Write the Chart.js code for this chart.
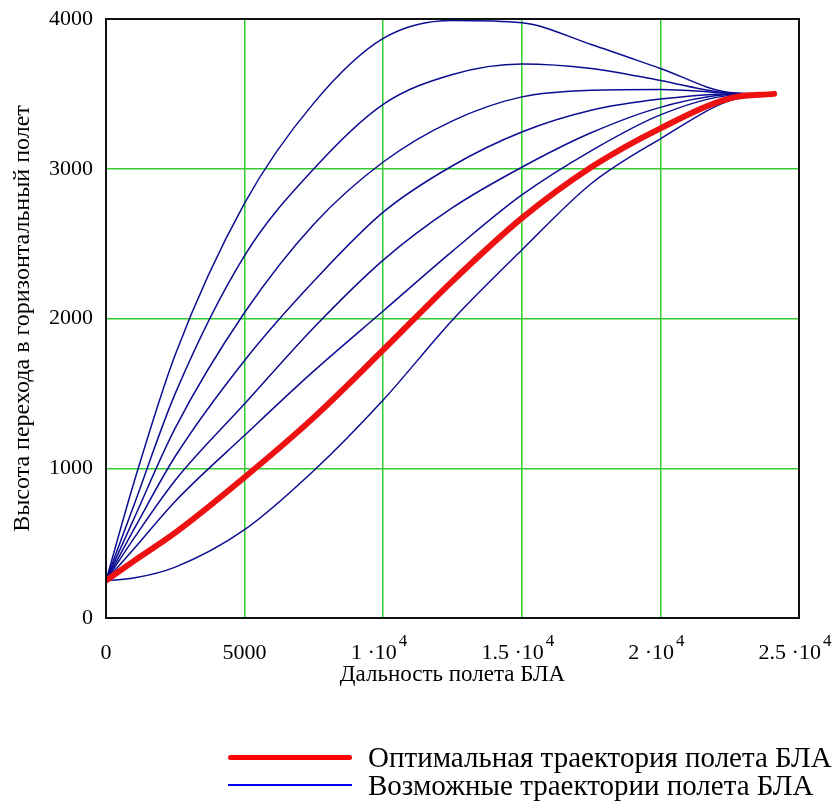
<!DOCTYPE html>
<html>
<head>
<meta charset="utf-8">
<script src="https://cdn.jsdelivr.net/npm/chart.js"></script>
<style>
  body { margin: 0; background: #fff; }
  #wrap { position: relative; width: 835px; height: 805px; }
  .lg-line { position: absolute; left: 228px; width: 124px; }
  .lg-text { position: absolute; left: 368px; font-family: 'Liberation Serif', serif; font-size: 29px; color: #000; white-space: nowrap; line-height: 28px; }
</style>
</head>
<body>
<div id="wrap">
  <canvas id="chart" width="835" height="805"></canvas>
  <div class="lg-line" style="top:755px;height:5px;background:#ff0000;border-radius:3px;"></div>
  <div class="lg-text" style="top:743px;">Оптимальная траектория полета БЛА</div>
  <div class="lg-line" style="top:784px;height:1.5px;background:#0000ff;"></div>
  <div class="lg-text" style="top:771px;">Возможные траектории полета БЛА</div>
</div>
<script>
// distance along the flight (x) and heights
const xDist = [0, 1000, 2500, 5000, 7500, 10000, 12500, 15000, 17500, 20000, 22500, 24100];

const hCurve1 = [250, 900, 1760, 2770, 3440, 3870, 3990, 3975, 3830, 3670, 3510, 3500];
const hCurve2 = [250, 750, 1500, 2420, 3000, 3430, 3630, 3700, 3670, 3590, 3505, 3500];
const hCurve3 = [250, 660, 1270, 2040, 2630, 3045, 3320, 3480, 3525, 3530, 3505, 3500];
const hCurve4 = [250, 590, 1080, 1720, 2250, 2710, 3020, 3245, 3390, 3465, 3500, 3500];
const hCurve5 = [250, 530, 920, 1430, 1940, 2390, 2740, 3010, 3240, 3410, 3495, 3500];
const hCurve6 = [250, 460, 780, 1220, 1650, 2050, 2450, 2825, 3120, 3360, 3490, 3500];
const hCurve7 = [250, 267, 340, 590, 985, 1456, 1990, 2457, 2900, 3200, 3455, 3500];
const hOptimal = [250, 380, 570, 940, 1340, 1790, 2250, 2670, 3010, 3270, 3470, 3500];

const xTickValues = [0, 5000, 10000, 15000, 20000, 25000];
const xTickBase = ['0', '5000', '1 ·10', '1.5 ·10', '2 ·10', '2.5 ·10'];
const xTickExp = ['', '', '4', '4', '4', '4'];

const BLUE = '#0c0c92';
const RED = '#ee1111';
const GRID = '#33cc33';
const FONT = "'Liberation Serif', 'Times New Roman', serif";

function toPoints(ys) {
  return xDist.map((x, i) => ({ x: x, y: ys[i] }));
}

const blueCurves = [hCurve1, hCurve2, hCurve3, hCurve4, hCurve5, hCurve6, hCurve7];

const datasets = [{
  label: 'Оптимальная траектория полета БЛА',
  data: toPoints(hOptimal),
  borderColor: RED,
  borderWidth: 6,
  borderCapStyle: 'round',
  pointRadius: 0,
  showLine: true,
  cubicInterpolationMode: 'monotone',
  order: 0
}];
blueCurves.forEach((ys, i) => {
  datasets.push({
    label: 'Возможные траектории полета БЛА ' + (i + 1),
    data: toPoints(ys),
    borderColor: BLUE,
    borderWidth: 1.5,
    pointRadius: 0,
    showLine: true,
    cubicInterpolationMode: 'monotone',
    order: 1
  });
});

// x labels in the 1·10^4 form, plus the black frame round the plot
const extrasPlugin = {
  id: 'extras',
  afterDraw(chart) {
    const ctx = chart.ctx;
    const area = chart.chartArea;
    const xs = chart.scales.x;
    ctx.save();
    ctx.strokeStyle = '#111';
    ctx.lineWidth = 2;
    ctx.strokeRect(area.left, area.top, area.right - area.left, area.bottom - area.top);

    ctx.fillStyle = '#000';
    ctx.textBaseline = 'alphabetic';
    ctx.textAlign = 'left';
    xTickValues.forEach((v, i) => {
      const px = xs.getPixelForValue(v);
      ctx.font = '22px ' + FONT;
      const wb = ctx.measureText(xTickBase[i]).width;
      ctx.font = '17px ' + FONT;
      const we = xTickExp[i] ? ctx.measureText(xTickExp[i]).width + 2 : 0;
      const cx = xTickExp[i] ? px - 4 : px;
      const left = Math.min(cx - (wb + we) / 2, 833 - wb - we);
      ctx.font = '22px ' + FONT;
      ctx.fillText(xTickBase[i], left, 659);
      if (xTickExp[i]) {
        ctx.font = '17px ' + FONT;
        ctx.fillText(xTickExp[i], left + wb + 2, 646);
      }
    });
    ctx.restore();
  }
};

new Chart(document.getElementById('chart'), {
  type: 'scatter',
  data: { datasets: datasets },
  plugins: [extrasPlugin],
  options: {
    responsive: false,
    devicePixelRatio: 1,
    animation: false,
    layout: { padding: { left: 0, top: 19, right: 36, bottom: 112 } },
    plugins: {
      legend: { display: false },
      tooltip: { enabled: false }
    },
    scales: {
      x: {
        type: 'linear',
        min: 0,
        max: 25000,
        afterFit: (scale) => { scale.height = 75; },
        ticks: { stepSize: 5000, display: false },
        grid: { color: GRID, lineWidth: 1.5, drawTicks: false },
        border: { display: true, color: '#111', width: 2 },
        title: {
          display: true,
          text: 'Дальность полета БЛА',
          color: '#000',
          font: { family: FONT, size: 23 },
          padding: { top: 0, bottom: 4 }
        }
      },
      y: {
        type: 'linear',
        min: 0,
        max: 4000,
        afterFit: (scale) => {
          scale.width = 106;
          scale.paddingTop = 0;
          scale.paddingBottom = 0;
        },
        ticks: {
          stepSize: 1000,
          color: '#000',
          padding: 13,
          font: { family: FONT, size: 22 },
          callback: (v) => String(v)
        },
        grid: { color: GRID, lineWidth: 1.5, drawTicks: false },
        border: { display: true, color: '#111', width: 2 },
        title: {
          display: true,
          text: 'Высота перехода в горизонтальный полет',
          color: '#000',
          font: { family: FONT, size: 24 },
          padding: { top: 8, bottom: 0 }
        }
      }
    }
  }
});
</script>
</body>
</html>
